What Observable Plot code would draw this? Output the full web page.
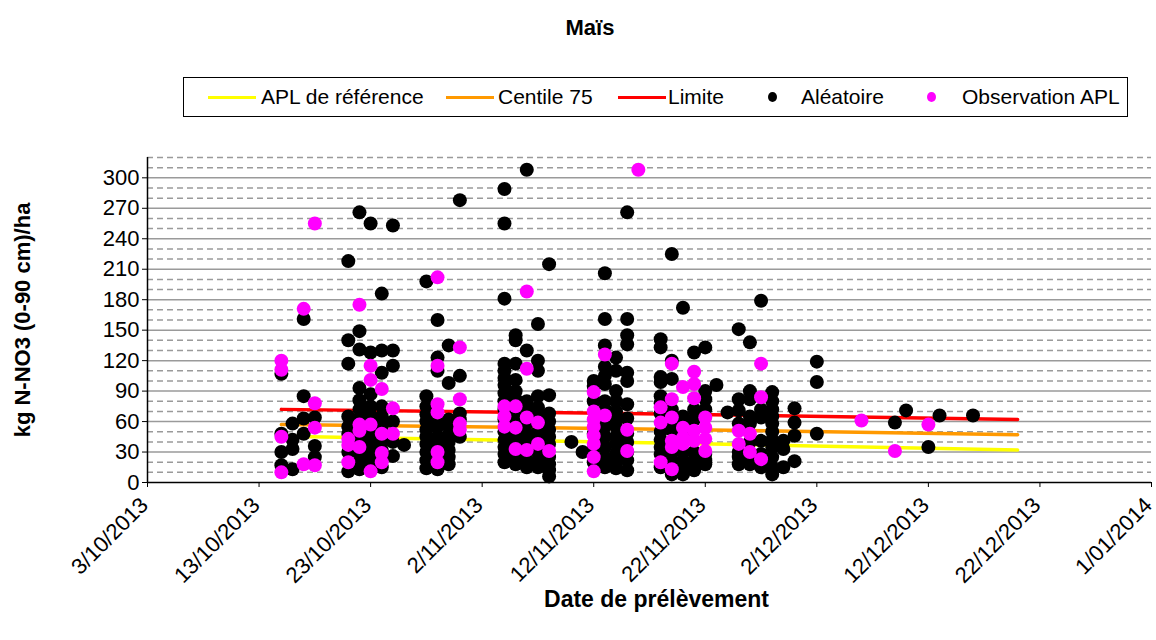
<!DOCTYPE html>
<html>
<head>
<meta charset="utf-8">
<script src="https://cdn.jsdelivr.net/npm/d3@7"></script>
<script src="https://cdn.jsdelivr.net/npm/@observablehq/plot@0.6"></script>
<style>
  html, body { margin: 0; padding: 0; background: #fff; }
  body { width: 1156px; height: 640px; position: relative; overflow: hidden;
         font-family: "Liberation Sans", Arial, sans-serif; color: #000; }
  #title { position: absolute; left: 0; width: 1180px; top: 15px; text-align: center;
           font-weight: bold; font-size: 22px; }
  #legend { position: absolute; left: 183px; top: 77px; width: 945px; height: 40px;
            border: 1.5px solid #000; box-sizing: border-box; }
  .sw { position: absolute; top: 18px; height: 3px; width: 48px; }
  .dt { position: absolute; top: 14px; width: 9px; height: 10px; border-radius: 50%; }
  .lt { position: absolute; top: 7px; font-size: 21px; white-space: nowrap; }
  #chart { position: absolute; left: 0; top: 130px; }
</style>
</head>
<body>
<div id="title">Maïs</div>
<div id="legend"></div>
<div id="chart"></div>
<script>
// ---- Data ----
const xTicks = ["2013-10-03","2013-10-13","2013-10-23","2013-11-02","2013-11-12",
                "2013-11-22","2013-12-02","2013-12-12","2013-12-22","2014-01-01"];
const yTicks = [0, 30, 60, 90, 120, 150, 180, 210, 240, 270, 300];
const gridSolid = [30, 60, 90, 120, 150, 180, 210, 240, 270, 300];
const gridDashed = [10, 20, 40, 50, 70, 80, 100, 110, 130, 140, 160, 170, 190, 200,
                    220, 230, 250, 260, 280, 290, 310, 320];

const lineDates = ["2013-10-15", "2013-11-18", "2013-12-20"];
const aplReference = [45.5, 39, 32];
const centile75 = [57, 52.5, 47];
const limite = [72, 67.5, 62];

const aleatoireDates = ["2013-10-15","2013-10-16","2013-10-17","2013-10-18","2013-10-21",
  "2013-10-22","2013-10-23","2013-10-24","2013-10-25","2013-10-26","2013-10-28","2013-10-29",
  "2013-10-30","2013-10-31","2013-11-04","2013-11-05","2013-11-06","2013-11-07","2013-11-08",
  "2013-11-10","2013-11-11","2013-11-12","2013-11-13","2013-11-14","2013-11-15","2013-11-18",
  "2013-11-19","2013-11-20","2013-11-21","2013-11-22","2013-11-23","2013-11-24","2013-11-25",
  "2013-11-26","2013-11-27","2013-11-28","2013-11-29","2013-11-30","2013-12-02","2013-12-09",
  "2013-12-10","2013-12-12","2013-12-13","2013-12-16"];
const aleatoireValues = [
  [107, 48, 30, 17],
  [58, 42, 33, 13],
  [161, 85, 63, 48],
  [64, 36, 25],
  [218, 140, 117, 65, 55, 48, 30, 11],
  [266, 149, 131, 93, 81, 72, 62, 52, 45, 38, 28, 21, 13],
  [255, 128, 87, 75, 66, 60, 50, 42, 35, 28, 20, 15],
  [186, 130, 108, 75, 65, 55, 40, 32, 25, 15],
  [253, 130, 115, 60, 40, 26],
  [37],
  [198, 85, 75, 67, 60, 52, 45, 38, 30, 22, 14],
  [160, 123, 110, 62, 55, 45, 38, 25, 13],
  [135, 98, 62, 55, 47, 40, 32, 25, 18],
  [278, 105, 68, 62, 45],
  [289, 255, 181, 117, 110, 103, 96, 88, 80, 72, 62, 50, 42, 35, 28, 20],
  [145, 140, 117, 101, 90, 82, 70, 62, 45, 38, 25, 18],
  [308, 130, 80, 72, 58, 48, 40, 22, 15],
  [156, 120, 110, 85, 74, 65, 50, 42, 30, 22, 15],
  [215, 86, 68, 60, 52, 45, 38, 25, 18, 12, 6],
  [40],
  [30],
  [100, 95, 80, 48, 33, 20],
  [206, 161, 135, 114, 105, 97, 80, 72, 62, 55, 45, 35, 25, 15],
  [123, 110, 90, 80, 70, 62, 55, 45, 38, 28, 20, 14],
  [266, 161, 145, 136, 108, 100, 77, 63, 48, 40, 30, 22, 12],
  [141, 133, 104, 99, 85, 78, 68, 50, 42, 35, 28, 15],
  [225, 120, 102, 72, 60, 52, 30, 22, 15, 8],
  [172, 65, 58, 48, 30, 22, 15, 8],
  [128, 72, 62, 30, 22, 15, 12],
  [133, 90, 82, 72, 28, 22, 18],
  [96],
  [69],
  [151, 82, 71, 58, 30, 25, 18],
  [138, 90, 82, 65, 58, 40, 25, 18],
  [179, 72, 64, 41, 28, 15],
  [89, 80, 72, 65, 58, 50, 42, 35, 25, 15, 8],
  [41, 33, 15],
  [73, 59, 46, 21],
  [119, 99, 48],
  [59],
  [71],
  [35],
  [66],
  [66]
];

const observationDates = ["2013-10-15","2013-10-17","2013-10-18","2013-10-21","2013-10-22",
  "2013-10-23","2013-10-24","2013-10-25","2013-10-29","2013-10-31","2013-11-04","2013-11-05",
  "2013-11-06","2013-11-07","2013-11-08","2013-11-12","2013-11-13","2013-11-15","2013-11-16",
  "2013-11-18","2013-11-19","2013-11-20","2013-11-21","2013-11-22","2013-11-25","2013-11-26",
  "2013-11-27","2013-12-06","2013-12-09","2013-12-12"];
const observationValues = [
  [120, 111, 45, 10],
  [171, 18],
  [255, 78, 54, 17],
  [43, 37, 20],
  [175, 57, 51, 35],
  [115, 101, 57, 11],
  [92, 48, 29, 20],
  [73, 48],
  [202, 115, 77, 69, 30, 20],
  [133, 82, 58, 52],
  [75, 65, 55],
  [75, 54, 33],
  [188, 112, 64, 32],
  [59, 38],
  [31],
  [89, 70, 62, 55, 46, 38, 25, 11],
  [126, 66],
  [52, 31],
  [308],
  [74, 59, 20],
  [117, 82, 64, 41, 35, 13],
  [94, 54, 44, 38],
  [109, 97, 83, 51, 41],
  [64, 54, 43, 31],
  [51, 38],
  [48, 30],
  [117, 84, 23],
  [61],
  [31],
  [57]
];

const seriesNames = ["APL de référence", "Centile 75", "Limite", "Aléatoire", "Observation APL"];
const seriesColors = ["#FFFF00", "#FF9900", "#FF0000", "#000000", "#FF00FF"];

// ---- Build tables ----
const parse = s => new Date(s + "T00:00:00Z");
const flat = (dates, values) => dates.flatMap((d, i) => values[i].map(v => ({date: parse(d), value: v})));
const aleatoire = flat(aleatoireDates, aleatoireValues);
const observation = flat(observationDates, observationValues);
const lineTable = (vals) => lineDates.map((d, i) => ({date: parse(d), value: vals[i]}));

const fmt = d => `${d.getUTCDate()}/${String(d.getUTCMonth() + 1).padStart(2, "0")}/${d.getUTCFullYear()}`;
const xDomain = [parse(xTicks[0]), parse(xTicks[xTicks.length - 1])];

const chart = Plot.plot({
  width: 1156,
  height: 510,
  marginTop: 27,
  marginBottom: 158,
  marginLeft: 147,
  marginRight: 5,
  style: {fontFamily: "'Liberation Sans', Arial, sans-serif", fontSize: "22px", color: "#000", background: "#fff", overflow: "visible"},
  x: {type: "utc", domain: xDomain},
  y: {domain: [0, 320]},
  marks: [
    Plot.ruleY(gridDashed, {stroke: "#9a9a9a", strokeWidth: 1.5, strokeDasharray: "6,4"}),
    Plot.ruleY(gridSolid, {stroke: "#9a9a9a", strokeWidth: 1.5}),
    Plot.line(lineTable(aplReference), {x: "date", y: "value", stroke: seriesColors[0], strokeWidth: 3.5}),
    Plot.line(lineTable(centile75), {x: "date", y: "value", stroke: seriesColors[1], strokeWidth: 3.5}),
    Plot.line(lineTable(limite), {x: "date", y: "value", stroke: seriesColors[2], strokeWidth: 3.5}),
    Plot.dot(aleatoire, {x: "date", y: "value", r: 7, fill: seriesColors[3]}),
    Plot.dot(observation, {x: "date", y: "value", r: 7, fill: seriesColors[4]}),
    Plot.ruleY([0], {stroke: "#000", strokeWidth: 1.5}),
    Plot.ruleX([xDomain[0]], {stroke: "#000", strokeWidth: 1.5}),
    Plot.axisY({ticks: yTicks, tickSize: 5, tickPadding: 3, label: null, fontSize: 22}),
    Plot.axisX({ticks: xTicks.map(parse), tickFormat: () => "", tickSize: 5, label: null}),
    Plot.axisX({ticks: xTicks.map(parse), tickFormat: fmt, tickRotate: -45, tickSize: 0,
                tickPadding: 19, dx: -3, label: null, fontSize: 22}),
    Plot.text(["Date de prélèvement"], {frameAnchor: "bottom", dy: 124, dx: 7, fontWeight: "bold", fontSize: 23}),
    Plot.text(["kg N-NO3 (0-90 cm)/ha"], {frameAnchor: "left", dx: -125, rotate: -90, textAnchor: "middle", fontWeight: "bold", fontSize: 22})
  ]
});
document.getElementById("chart").appendChild(chart);

// ---- Legend ----
const legend = document.getElementById("legend");
const swX = [24, 262, 434];
const txX = [77, 314, 484];
for (let i = 0; i < 3; i++) {
  const s = document.createElement("div");
  s.className = "sw"; s.style.left = swX[i] + "px"; s.style.background = seriesColors[i];
  legend.appendChild(s);
  const t = document.createElement("div");
  t.className = "lt"; t.style.left = txX[i] + "px"; t.textContent = seriesNames[i];
  legend.appendChild(t);
}
const dotX = [584, 743];
const dotTx = [617, 778];
for (let i = 0; i < 2; i++) {
  const d = document.createElement("div");
  d.className = "dt"; d.style.left = dotX[i] + "px"; d.style.background = seriesColors[3 + i];
  legend.appendChild(d);
  const t = document.createElement("div");
  t.className = "lt"; t.style.left = dotTx[i] + "px"; t.textContent = seriesNames[3 + i];
  legend.appendChild(t);
}
</script>
</body>
</html>
